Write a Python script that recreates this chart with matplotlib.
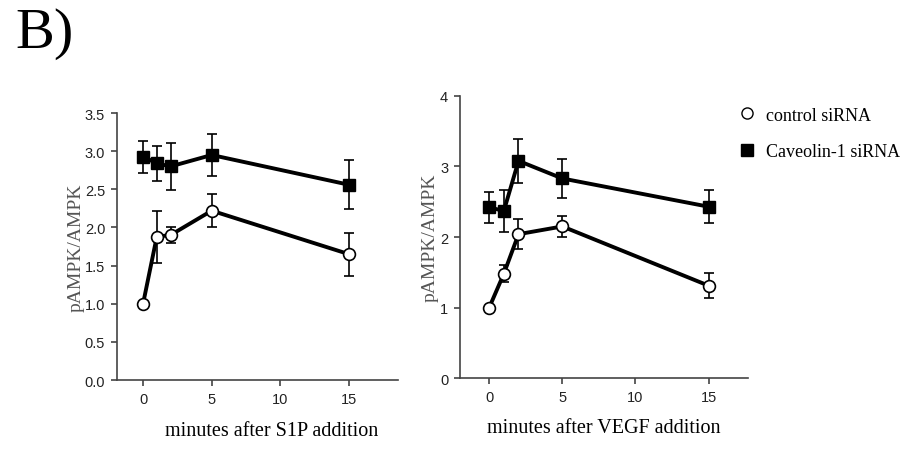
import matplotlib
matplotlib.use("Agg")
import matplotlib.pyplot as plt
from matplotlib.lines import Line2D

# --- Daten ---
minutes = [0, 1, 2, 5, 15]

s1p_ctrl = [1.00, 1.88, 1.90, 2.22, 1.65]
s1p_ctrl_err = [0.0, 0.34, 0.11, 0.22, 0.28]
s1p_cav = [2.93, 2.84, 2.80, 2.95, 2.56]
s1p_cav_err = [0.21, 0.23, 0.31, 0.28, 0.32]

vegf_ctrl = [1.00, 1.48, 2.04, 2.15, 1.31]
vegf_ctrl_err = [0.0, 0.12, 0.21, 0.15, 0.18]
vegf_cav = [2.42, 2.37, 3.08, 2.83, 2.43]
vegf_cav_err = [0.22, 0.30, 0.31, 0.27, 0.23]

SERIF = "Liberation Serif"
SANS = "Liberation Sans"
AX_COL = "#444444"

fig = plt.figure(figsize=(9.14, 4.52), dpi=100)
ax1 = fig.add_axes([0.128, 0.157, 0.3074, 0.5907])
ax2 = fig.add_axes([0.5033, 0.1615, 0.3151, 0.6239])


def draw_panel(ax, ctrl, ctrl_err, cav, cav_err, xlim, ylim, yticks, ylabels, xlabel, ypad):
    ax.errorbar(minutes, cav, yerr=cav_err, color="black", lw=2.8, marker="s",
                ms=8, mfc="black", mec="black", capsize=3.8, elinewidth=1.2,
                capthick=1.2, zorder=3)
    ax.errorbar(minutes, ctrl, yerr=ctrl_err, color="black", lw=2.8, marker="o",
                ms=8.5, mfc="white", mec="black", mew=1.2, capsize=3.8,
                elinewidth=1.2, capthick=1.2, zorder=3)
    ax.set_xlim(*xlim)
    ax.set_ylim(*ylim)
    ax.set_xticks([0, 5, 10, 15])
    ax.set_yticks(yticks)
    ax.set_yticklabels(ylabels)
    for s in ["top", "right"]:
        ax.spines[s].set_visible(False)
    for s in ["left", "bottom"]:
        ax.spines[s].set_color(AX_COL)
        ax.spines[s].set_linewidth(1.2)
    ax.tick_params(direction="out", length=4.5, width=1.2, color=AX_COL,
                   labelcolor="#222222", labelsize=10.5, pad=4)
    for lab in ax.get_xticklabels() + ax.get_yticklabels():
        lab.set_family(SANS)
    ax.set_xlabel(xlabel, family=SERIF, fontsize=14.5, labelpad=10)
    ax.set_ylabel("pAMPK/AMPK", family=SERIF, fontsize=14, color="#555555", labelpad=ypad)


draw_panel(ax1, s1p_ctrl, s1p_ctrl_err, s1p_cav, s1p_cav_err, (-1.9, 18.57), (0, 3.5),
           [0, 0.5, 1, 1.5, 2, 2.5, 3, 3.5],
           ["0.0", "0.5", "1.0", "1.5", "2.0", "2.5", "3.0", "3.5"],
           "minutes after S1P addition", 0)
draw_panel(ax2, vegf_ctrl, vegf_ctrl_err, vegf_cav, vegf_cav_err, (-2, 17.7), (0, 4),
           [0, 1, 2, 3, 4], ["0", "1", "2", "3", "4"],
           "minutes after VEGF addition", 1)
ax1.xaxis.set_label_coords(0.55, -0.155)

# Legende
hc = Line2D([], [], ls="none", marker="o", ms=8, mfc="white", mec="black", mew=1.0)
hs = Line2D([], [], ls="none", marker="s", ms=8, mfc="black", mec="black")
fig.legend([hc, hs], ["control siRNA", "Caveolin-1 siRNA"], loc="upper left",
           bbox_to_anchor=(0.797, 0.782), frameon=False, labelspacing=1.1,
           handlelength=1.0, handletextpad=0.6, borderpad=0,
           prop={"family": SERIF, "size": 13})

fig.text(0.0164, 1 - 48 / 452, "B)", family=SERIF, fontsize=42, va="baseline", ha="left")

plt.savefig("out.png", dpi=100)
